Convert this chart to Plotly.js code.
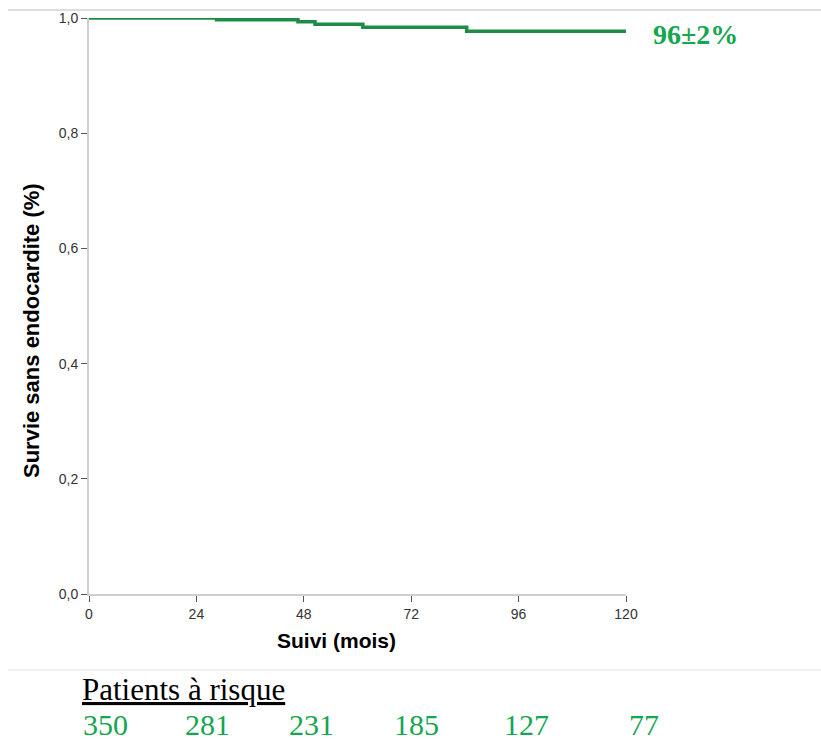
<!DOCTYPE html>
<html>
<head>
<meta charset="utf-8">
<script src="https://cdn.plot.ly/plotly-3.0.1.min.js"></script>
<style>html,body{margin:0;padding:0;background:#fff;}#chart{width:821px;height:740px;}</style>
</head>
<body>
<div id="chart"></div>
<script>
// Kaplan-Meier step data (months, survival)
const months = [0, 28.5, 46.7, 50.5, 61.2, 84.4, 120];
const survival = [1.0, 0.997, 0.9936, 0.989, 0.984, 0.977, 0.977];
const xTicks = [0, 24, 48, 72, 96, 120];
const yTicks = [0, 0.2, 0.4, 0.6, 0.8, 1.0];
const atRiskLabel = "Patients à risque";
const atRisk = ["350", "281", "231", "185", "127", "77"];
const finalLabel = "96±2%";

const W = 821, L = 89, R = 626, T = 18, B = 594;
const pw = R - L, ph = B - T;
const px = v => (v - L) / pw;
const py = v => (B - v) / ph;
const atRiskPx = [82, 184, 288, 393, 503, 628];

const annotations = [
  {text: finalLabel, xref: 'paper', yref: 'paper', x: px(651), y: py(35), xanchor: 'left', yanchor: 'middle',
   showarrow: false, font: {family: 'Liberation Serif, Times New Roman, serif', size: 28, color: '#14a651', weight: 'bold'}},
  {text: '<span style="text-decoration:underline">' + atRiskLabel + '</span>', xref: 'paper', yref: 'paper', x: px(80), y: py(689), xanchor: 'left', yanchor: 'middle',
   showarrow: false, font: {family: 'Liberation Serif, Times New Roman, serif', size: 31, color: '#000'}},
  {text: 'Survie sans endocardite (%)', xref: 'paper', yref: 'paper', x: px(31), y: py(331), xanchor: 'center', yanchor: 'middle',
   textangle: -90, showarrow: false, font: {family: 'Liberation Sans, Arial, sans-serif', size: 22, color: '#000', weight: 'bold'}},
  {text: 'Suivi (mois)', xref: 'paper', yref: 'paper', x: px(336), y: py(640), xanchor: 'center', yanchor: 'middle',
   showarrow: false, font: {family: 'Liberation Sans, Arial, sans-serif', size: 21, color: '#000', weight: 'bold'}}
];
atRisk.forEach((t, i) => annotations.push({
  text: t, xref: 'paper', yref: 'paper', x: px(atRiskPx[i] - 1), y: py(724), xanchor: 'left', yanchor: 'middle',
  showarrow: false, font: {family: 'Liberation Serif, Times New Roman, serif', size: 30, color: '#14a651'}
}));

const shapes = [
  {type: 'line', xref: 'paper', yref: 'paper', x0: px(8), x1: px(821), y0: py(10), y1: py(10), line: {color: '#bdbdbd', width: 1}},
  {type: 'line', xref: 'paper', yref: 'paper', x0: px(8), x1: px(821), y0: py(670), y1: py(670), line: {color: '#e2e2e2', width: 1}}
];

Plotly.newPlot('chart', [{
  x: months, y: survival, type: 'scatter', mode: 'lines', line: {shape: 'hv', color: '#1e8c46', width: 3.5},
  hoverinfo: 'skip', showlegend: false
}], {
  width: W, height: 740,
  margin: {l: L, r: W - R, t: T, b: 740 - B, pad: 0},
  paper_bgcolor: '#fff', plot_bgcolor: '#fff',
  separators: ',.',
  font: {family: 'Liberation Sans, Arial, sans-serif', color: '#333'},
  xaxis: {range: [0, 120], tickvals: xTicks, ticktext: xTicks.map(String), showgrid: false, zeroline: false,
    showline: true, linecolor: '#cfcfcf', linewidth: 2, ticks: 'outside', ticklen: 6, tickcolor: '#555', tickwidth: 1,
    tickfont: {size: 14, color: '#333'}},
  yaxis: {range: [0, 1], tickvals: yTicks, tickformat: '.1f', showgrid: false, zeroline: false,
    showline: true, linecolor: '#cfcfcf', linewidth: 2, ticks: 'outside', ticklen: 6, tickcolor: '#555', tickwidth: 1,
    tickfont: {size: 14, color: '#333'}},
  annotations: annotations, shapes: shapes
}, {displayModeBar: false, staticPlot: true});
</script>
</body>
</html>
